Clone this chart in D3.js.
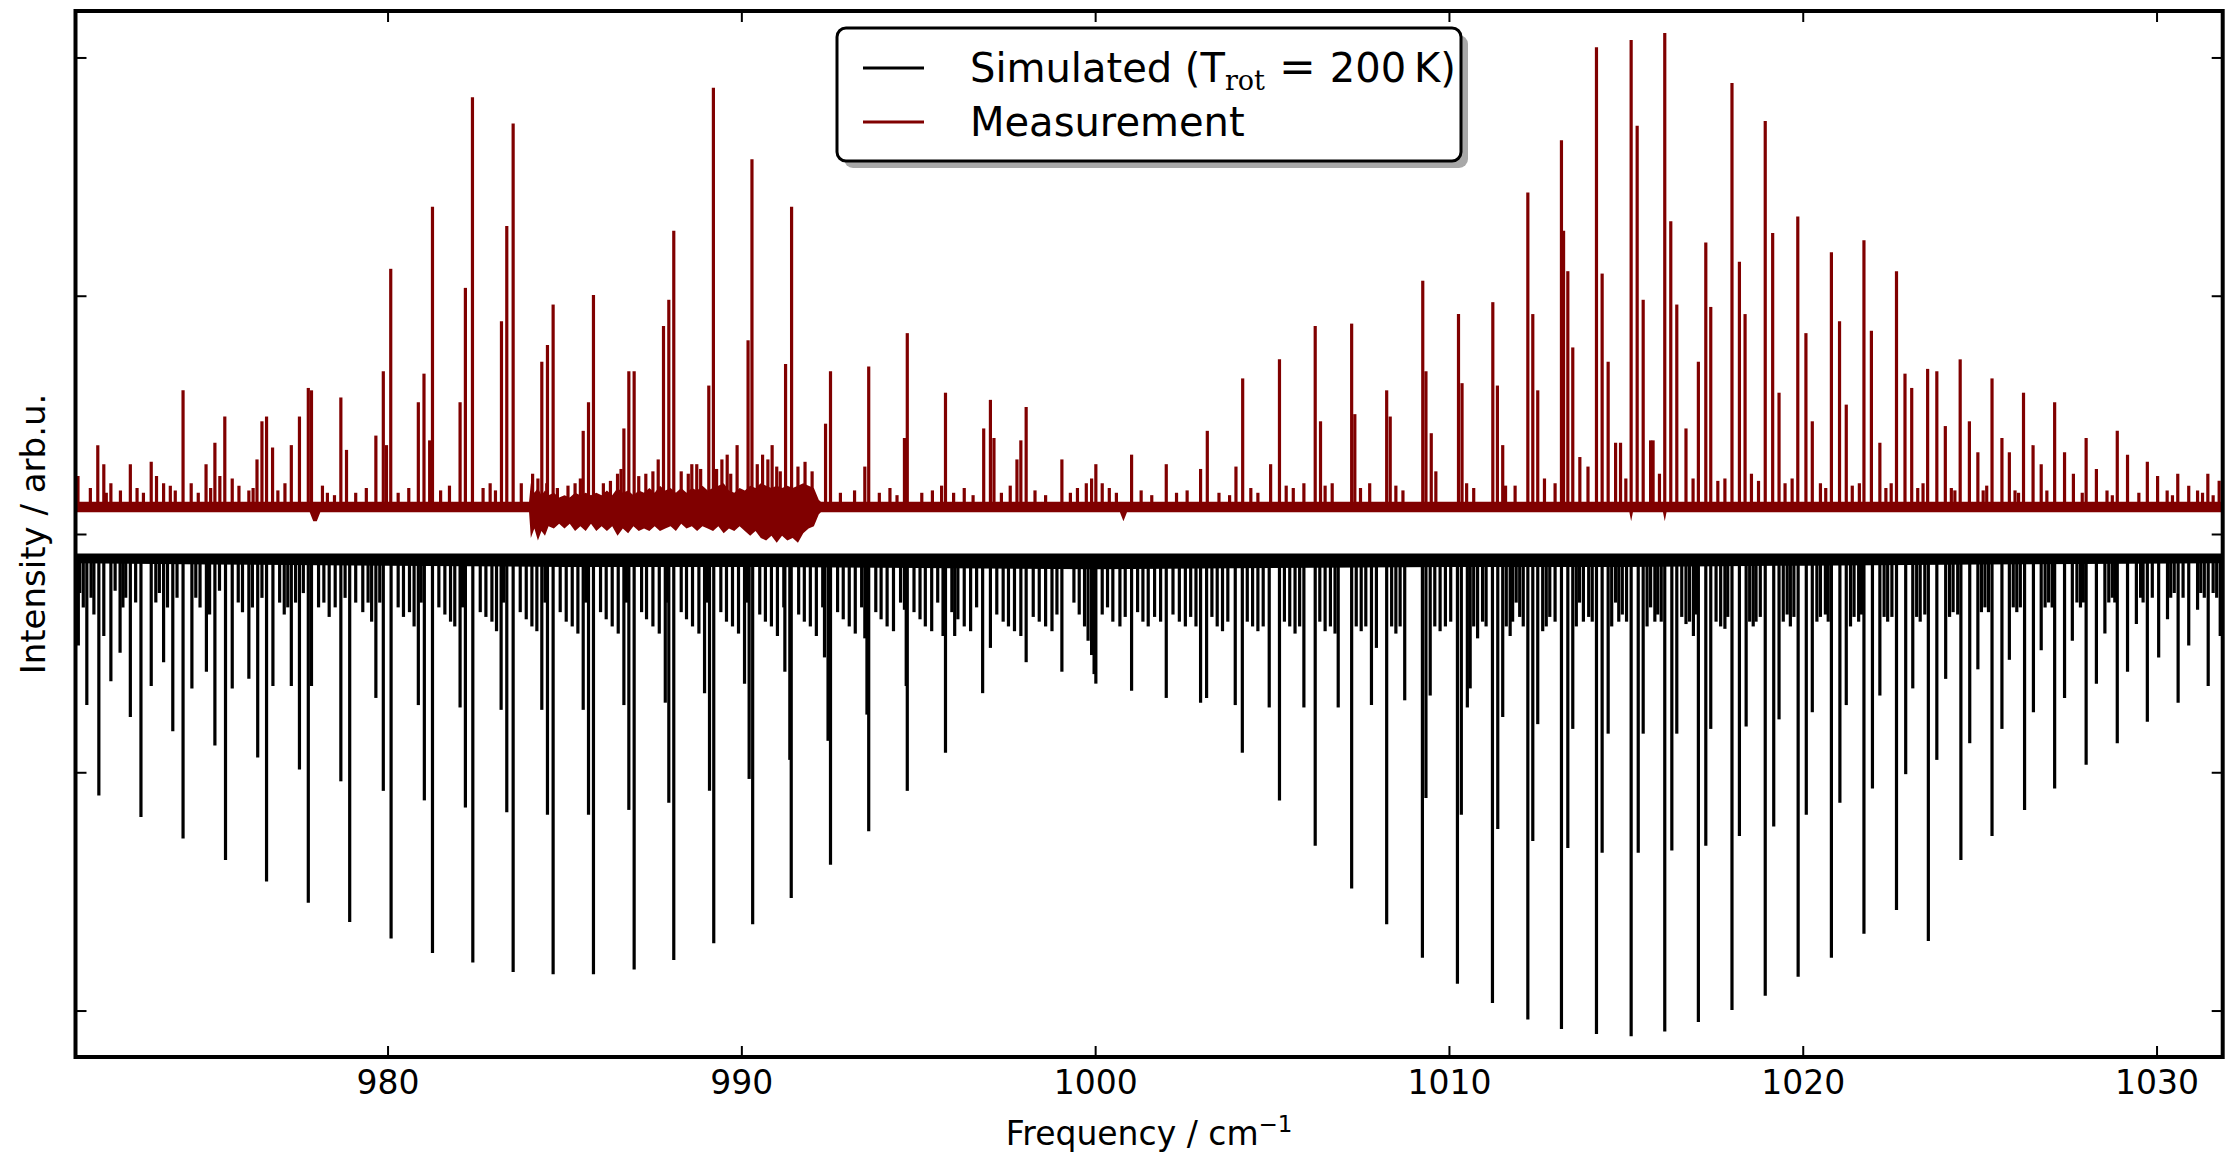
<!DOCTYPE html>
<html lang="en">
	<head>
		<meta charset="utf-8">
		<title>Spectrum: measurement vs. simulation</title>
		<script type="text/javascript" src="https://cdn.jsdelivr.net/npm/d3@7"></script>
		<style type="text/css">

			* {
				margin: 0;
				padding: 0;
			}

			body {
				background-color: white;
				font-family: "DejaVu Sans", sans-serif;
			}

			svg {
				display: block;
			}

			.axis path {
				display: none;
			}

			.axis line {
				stroke: black;
				stroke-width: 2;
			}

			.axis text {
				font-family: "DejaVu Sans", sans-serif;
				font-size: 33px;
				fill: black;
			}

		</style>
	</head>
	<body>

		<div id="chart"></div>

		<script type="text/javascript">

			//Width and height
			var w = 2237;
			var h = 1152;
			var plot = {left: 75.5, right: 2222.7, top: 11, bottom: 1057};

			//Axis ranges and ticks (y ticks carry no labels)
			var xDomain = [971.18, 1031.87];
			var yDomain = [-2.195, 2.195];
			var xTicks = [980, 990, 1000, 1010, 1020, 1030];
			var yTicks = [-2, -1, 0, 1, 2];

			//baselines the two traces sit on
			var measBase = 0.113;
			var simBase = -0.088;

			var seriesNames = ["Simulated", "Measurement"];
			var seriesColours = ["black", "#800000"];

			//Measurement: [frequency, height above baseline]
			var measPeaks = [
				[971.25,0.13],[971.81,0.26],[971.98,0.18],[972.18,0.10],[972.73,0.18],[972.92,0.08],[973.32,0.19],[973.47,0.13],
				[973.67,0.10],[973.86,0.09],[974.22,0.49],[974.87,0.18],[975.12,0.27],[975.26,0.13],[975.40,0.38],[975.61,0.12],
				[976.08,0.07],[976.31,0.20],[976.45,0.36],[976.58,0.38],[976.75,0.25],[977.28,0.26],[977.51,0.38],[977.76,0.50],
				[977.85,0.49],[978.16,0.09],[978.68,0.46],[978.84,0.24],[979.67,0.30],[979.88,0.57],[979.97,0.26],[980.09,1.00],
				[980.87,0.44],[981.03,0.56],[981.19,0.28],[981.27,1.26],[982.05,0.44],[982.20,0.92],[982.40,1.72],[983.22,0.78],
				[983.37,1.18],[983.55,1.61],[983.78,0.10],[984.36,0.61],[984.52,0.68],[984.68,0.85],[985.53,0.32],[985.68,0.44],
				[985.82,0.89],[986.68,0.33],[986.82,0.57],[986.97,0.57],[987.80,0.76],[987.95,0.87],[988.09,1.16],[988.74,0.18],
				[989.08,0.51],[989.21,1.76],[989.88,0.26],[990.19,0.70],[990.30,1.46],[990.87,0.26],[991.25,0.60],[991.42,1.26],
				[992.38,0.35],[992.52,0.57],[993.49,0.17],[993.60,0.59],[994.61,0.29],[994.69,0.73],[995.66,0.09],[995.77,0.48],
				[996.85,0.33],[997.04,0.45],[997.14,0.29],[997.79,0.20],[997.90,0.28],[998.05,0.42],[999.06,0.20],[1000.02,0.18],
				[1001.03,0.22],[1002.01,0.18],[1002.98,0.16],[1003.17,0.32],[1003.98,0.17],[1004.17,0.54],[1004.96,0.18],[1005.21,0.62],
				[1006.22,0.76],[1006.37,0.36],[1007.25,0.77],[1007.34,0.39],[1008.24,0.49],[1008.34,0.38],[1009.26,0.95],[1009.35,0.57],
				[1009.50,0.31],[1010.27,0.81],[1010.37,0.52],[1011.24,0.86],[1011.37,0.51],[1011.52,0.26],[1012.23,1.32],[1012.37,0.81],
				[1012.51,0.49],[1013.18,1.54],[1013.24,1.16],[1013.36,0.99],[1013.50,0.67],[1014.17,1.93],[1014.33,0.98],[1014.50,0.61],
				[1014.71,0.27],[1015.15,1.96],[1015.32,1.60],[1015.49,0.87],[1015.70,0.28],[1016.10,1.99],[1016.27,1.20],[1016.44,0.85],
				[1016.70,0.33],[1017.05,0.61],[1017.26,1.11],[1017.40,0.84],[1018.00,1.78],[1018.21,1.03],[1018.37,0.81],[1018.94,1.62],
				[1019.15,1.15],[1019.33,0.48],[1019.86,1.22],[1020.09,0.73],[1020.27,0.36],[1020.81,1.07],[1021.04,0.78],[1021.23,0.43],
				[1021.73,1.12],[1021.94,0.74],[1022.18,0.27],[1022.65,0.99],[1022.89,0.56],[1023.08,0.50],[1023.53,0.58],[1023.79,0.57],
				[1024.03,0.34],[1024.45,0.62],[1024.71,0.36],[1024.95,0.23],[1025.35,0.54],[1025.63,0.29],[1025.84,0.23],[1026.24,0.48],
				[1026.51,0.26],[1026.74,0.18],[1027.12,0.44],[1027.40,0.23],[1027.65,0.14],[1028.01,0.29],[1028.30,0.16],[1028.89,0.32],
				[1029.18,0.22],[1029.74,0.19],[1030.03,0.13],[1030.60,0.14],[1030.91,0.09],[1031.16,0.07],[1031.45,0.14],[1031.77,0.11]
			];

			//small spikes riding on the measured baseline
			var measSmall = [
				[971.60,0.08],[972.05,0.06],[972.45,0.07],[973.10,0.06],[974.00,0.07],[974.45,0.10],[974.65,0.06],[975.00,0.08],
				[975.80,0.09],[976.20,0.08],[976.90,0.07],[977.10,0.10],[978.30,0.06],[978.50,0.05],[979.10,0.06],[979.40,0.08],
				[980.30,0.06],[980.60,0.08],[981.50,0.07],[981.75,0.09],[982.70,0.08],[982.90,0.10],[983.05,0.07],
				[984.10,0.14],[984.25,0.12],[984.50,0.10],[984.80,0.08],[985.10,0.09],[985.30,0.10],[985.45,0.12],[986.10,0.10],
				[986.30,0.11],[986.50,0.14],[986.60,0.16],[987.10,0.13],[987.30,0.14],[987.50,0.15],[987.65,0.20],[988.30,0.15],
				[988.50,0.14],[988.60,0.18],[988.85,0.16],[989.30,0.16],[989.45,0.20],[989.60,0.22],[989.70,0.14],[990.45,0.18],
				[990.60,0.22],[990.75,0.20],[991.00,0.17],[991.10,0.15],[991.60,0.17],[991.80,0.19],[992.00,0.15],
				[992.80,0.06],[993.20,0.07],[993.90,0.06],[994.20,0.08],[994.40,0.05],[995.10,0.06],[995.40,0.07],[996.00,0.06],
				[996.30,0.08],[996.55,0.05],[997.35,0.06],[997.60,0.09],[998.30,0.07],[998.60,0.05],[999.30,0.06],[999.50,0.08],
				[999.75,0.10],[999.90,0.12],[1000.20,0.10],[1000.40,0.08],[1000.60,0.06],[1001.30,0.07],[1001.60,0.05],[1002.30,0.06],
				[1002.60,0.07],[1003.50,0.06],[1003.80,0.05],[1004.40,0.08],[1004.60,0.06],[1005.40,0.09],[1005.60,0.08],[1005.90,0.10],
				[1006.50,0.09],[1006.70,0.10],[1007.50,0.08],[1007.76,0.10],[1008.50,0.09],[1008.70,0.07],[1009.63,0.15],[1010.50,0.10],
				[1010.70,0.08],[1011.60,0.09],[1011.87,0.09],[1012.70,0.12],[1013.00,0.10],[1013.70,0.21],[1013.93,0.17],[1014.85,0.27],
				[1015.00,0.12],[1015.77,0.28],[1015.95,0.14],[1016.90,0.12],[1017.60,0.11],[1017.80,0.12],[1018.55,0.14],[1018.75,0.11],
				[1019.50,0.10],[1019.70,0.12],[1020.50,0.10],[1020.65,0.08],[1021.40,0.09],[1021.60,0.10],[1022.35,0.08],[1022.50,0.10],
				[1023.25,0.08],[1023.40,0.10],[1024.20,0.08],[1024.30,0.07],[1025.10,0.07],[1025.20,0.09],[1026.00,0.07],[1026.10,0.06],
				[1026.90,0.07],[1027.90,0.06],[1028.60,0.07],[1028.75,0.05],[1029.50,0.06],[1030.30,0.07],[1030.45,0.05],[1031.30,0.06],
				[1031.60,0.05]
			];

			//noise envelope of the measured baseline: [frequency, upper, lower]
			var measNoise = [
				[971.18,0.022,-0.022],[977.80,0.022,-0.022],[977.90,0.022,-0.06],[978.00,0.022,-0.06],[978.10,0.022,-0.022],
				[984.00,0.022,-0.022],[984.05,0.10,-0.13],[984.15,0.06,-0.09],[984.25,0.08,-0.14],[984.35,0.05,-0.10],
				[984.45,0.07,-0.12],[984.55,0.05,-0.08],[984.70,0.06,-0.09],[984.85,0.04,-0.07],[985.00,0.05,-0.09],
				[985.15,0.04,-0.07],[985.30,0.06,-0.10],[985.45,0.05,-0.08],[985.60,0.06,-0.10],[985.75,0.05,-0.07],
				[985.90,0.06,-0.10],[986.05,0.05,-0.08],[986.20,0.07,-0.10],[986.35,0.05,-0.08],[986.50,0.08,-0.12],
				[986.65,0.06,-0.09],[986.80,0.07,-0.11],[986.95,0.05,-0.08],[987.10,0.07,-0.10],[987.25,0.06,-0.09],
				[987.40,0.08,-0.10],[987.55,0.06,-0.08],[987.70,0.09,-0.10],[987.85,0.07,-0.09],[988.00,0.08,-0.08],
				[988.15,0.06,-0.10],[988.30,0.08,-0.07],[988.45,0.06,-0.09],[988.60,0.08,-0.08],[988.75,0.07,-0.10],
				[988.90,0.09,-0.08],[989.05,0.07,-0.09],[989.20,0.08,-0.10],[989.35,0.09,-0.08],[989.50,0.10,-0.11],
				[989.65,0.07,-0.09],[989.80,0.06,-0.10],[989.95,0.08,-0.08],[990.10,0.07,-0.10],[990.25,0.09,-0.12],
				[990.40,0.08,-0.10],[990.55,0.10,-0.13],[990.70,0.09,-0.14],[990.85,0.08,-0.12],[991.00,0.09,-0.15],
				[991.15,0.08,-0.12],[991.30,0.09,-0.14],[991.45,0.08,-0.13],[991.60,0.09,-0.15],[991.75,0.10,-0.11],
				[991.90,0.09,-0.09],[992.05,0.08,-0.08],[992.19,0.03,-0.03],[992.25,0.022,-0.022],
				[1000.70,0.022,-0.022],[1000.80,0.022,-0.06],[1000.90,0.022,-0.022],
				[1015.10,0.022,-0.022],[1015.15,0.022,-0.06],[1015.20,0.022,-0.022],[1016.05,0.022,-0.022],[1016.10,0.022,-0.06],
				[1016.15,0.022,-0.022],[1031.87,0.022,-0.022]
			];

			//Simulated: [frequency, depth below its baseline]
			var simLines = [
				[971.26,0.38],[971.50,0.63],[971.84,1.01],[971.98,0.34],[972.18,0.53],[972.44,0.41],[972.73,0.68],[973.03,1.10],
				[973.32,0.55],[973.67,0.45],[973.93,0.74],[974.22,1.19],[974.47,0.56],[974.88,0.49],[975.12,0.80],[975.42,1.28],
				[975.61,0.56],[976.08,0.52],[976.33,0.85],[976.58,1.37],[976.76,0.55],[977.28,0.55],[977.51,0.90],[977.76,1.46],
				[977.85,0.55],[978.68,0.95],[978.93,1.54],[979.67,0.60],[979.88,0.99],[980.10,1.61],[980.87,0.63],[981.04,1.03],
				[981.27,1.67],[982.05,0.64],[982.20,1.06],[982.41,1.71],[983.21,0.65],[983.37,1.08],[983.55,1.75],[984.36,0.65],
				[984.52,1.09],[984.68,1.76],[985.53,0.65],[985.68,1.09],[985.82,1.76],[986.68,0.63],[986.82,1.07],[986.97,1.74],
				[987.85,0.62],[987.95,1.04],[988.09,1.70],[988.96,0.58],[989.10,0.99],[989.22,1.63],[990.09,0.54],[990.22,0.94],
				[990.32,1.55],[991.23,0.49],[991.37,0.86],[991.41,1.44],[992.35,0.43],[992.45,0.78],[992.52,1.30],[993.49,0.35],
				[993.55,0.67],[993.60,1.16],[994.61,0.23],[994.66,0.55],[994.69,0.99],[995.70,0.34],[995.77,0.83],[996.03,0.34],
				[996.82,0.58],[997.04,0.39],[997.90,0.34],[998.05,0.45],[999.06,0.49],[1000.02,0.54],[1001.03,0.57],[1002.01,0.60],
				[1002.98,0.62],[1003.15,0.60],[1003.96,0.63],[1004.16,0.83],[1004.92,0.64],[1005.21,1.03],[1005.90,0.64],[1006.22,1.22],
				[1006.87,0.64],[1007.25,1.40],[1007.81,0.63],[1007.95,0.39],[1008.24,1.55],[1008.75,0.61],[1009.25,1.69],[1009.35,1.02],
				[1009.47,0.59],[1010.24,1.80],[1010.35,1.09],[1010.52,0.64],[1010.60,0.56],[1010.81,0.35],[1011.23,1.88],[1011.38,1.15],
				[1011.52,0.68],[1011.73,0.34],[1011.90,0.20],[1012.23,1.95],[1012.37,1.20],[1012.51,0.71],[1012.65,0.32],[1013.18,1.99],
				[1013.36,1.23],[1013.50,0.73],[1013.69,0.20],[1014.17,2.01],[1014.33,1.25],[1014.50,0.75],[1014.71,0.20],[1015.15,2.02],
				[1015.35,1.25],[1015.49,0.75],[1015.70,0.22],[1016.10,2.00],[1016.30,1.24],[1016.44,0.75],[1016.70,0.29],[1016.91,0.34],
				[1017.05,1.96],[1017.26,1.22],[1017.40,0.73],[1017.80,0.31],[1018.00,1.91],[1018.21,1.18],[1018.40,0.72],[1018.68,0.28],
				[1018.94,1.85],[1019.18,1.14],[1019.33,0.69],[1019.56,0.25],[1019.87,1.77],[1020.10,1.09],[1020.27,0.66],[1020.64,0.25],
				[1020.81,1.69],[1021.05,1.04],[1021.23,0.63],[1021.66,0.25],[1021.73,1.59],[1021.97,0.98],[1022.18,0.59],[1022.65,1.49],
				[1022.91,0.92],[1023.11,0.56],[1023.55,1.62],[1023.79,0.86],[1024.04,0.52],[1024.47,1.28],[1024.72,0.79],[1024.95,0.48],
				[1025.35,1.18],[1025.63,0.73],[1025.84,0.44],[1026.27,1.07],[1026.52,0.66],[1026.74,0.40],[1027.12,0.98],[1027.40,0.60],
				[1027.62,0.36],[1028.01,0.88],[1028.30,0.54],[1028.54,0.33],[1028.89,0.79],[1029.18,0.49],[1029.43,0.29],[1029.74,0.70],
				[1030.06,0.43],[1030.31,0.27],[1030.61,0.62],[1030.91,0.38],[1031.16,0.23],[1031.46,0.55],[1031.80,0.34]
			];

			//weak simulated lines forming the dense comb under the baseline
			var simWeak = [
				[971.30,0.16],[971.40,0.22],[971.62,0.18],[971.70,0.25],[972.30,0.15],[972.52,0.22],[972.60,0.18],[972.88,0.20],
				[973.45,0.20],[973.55,0.16],[973.78,0.22],[974.05,0.18],[974.58,0.18],[974.70,0.22],[974.97,0.25],[975.25,0.15],
				[975.78,0.20],[975.90,0.24],[976.18,0.22],[976.45,0.18],[976.95,0.20],[977.08,0.25],[977.18,0.22],[977.40,0.20],
				[977.62,0.16],[978.05,0.22],[978.20,0.20],[978.35,0.26],[978.52,0.22],[978.80,0.18],[979.10,0.20],[979.30,0.24],
				[979.45,0.20],[979.55,0.28],[979.78,0.20],[980.30,0.22],[980.45,0.26],[980.62,0.24],[980.75,0.30],[980.95,0.20],
				[981.45,0.22],[981.62,0.25],[981.78,0.28],[981.90,0.30],[982.12,0.22],[982.62,0.24],[982.78,0.26],[982.95,0.28],
				[983.08,0.32],[983.28,0.20],[983.75,0.24],[983.92,0.27],[984.08,0.30],[984.22,0.32],[984.45,0.20],[984.88,0.24],
				[985.05,0.28],[985.22,0.30],[985.38,0.33],[985.60,0.20],[986.02,0.24],[986.18,0.27],[986.35,0.30],[986.52,0.33],
				[986.75,0.20],[987.18,0.24],[987.32,0.27],[987.50,0.30],[987.68,0.33],[987.90,0.20],[988.30,0.24],[988.45,0.27],
				[988.62,0.30],[988.80,0.33],[989.02,0.20],[989.42,0.24],[989.58,0.28],[989.75,0.30],[989.92,0.33],[990.15,0.20],
				[990.52,0.25],[990.68,0.28],[990.85,0.30],[991.02,0.34],[991.20,0.22],[991.62,0.25],[991.78,0.28],[991.95,0.30],
				[992.12,0.34],[992.30,0.22],[992.72,0.24],[992.88,0.27],[993.05,0.30],[993.22,0.33],[993.40,0.22],[993.80,0.24],
				[993.95,0.27],[994.12,0.30],[994.30,0.32],[994.50,0.20],[994.88,0.24],[995.05,0.27],[995.20,0.30],[995.38,0.32],
				[995.55,0.20],[995.95,0.24],[996.12,0.27],[996.30,0.30],[996.48,0.32],[996.65,0.22],[997.22,0.25],[997.40,0.28],
				[997.55,0.30],[997.72,0.32],[998.25,0.26],[998.42,0.28],[998.60,0.30],[998.78,0.32],[998.92,0.25],[999.40,0.20],
				[999.55,0.25],[999.70,0.30],[999.80,0.36],[999.90,0.42],[999.97,0.50],[1000.20,0.25],[1000.35,0.22],[1000.50,0.28],
				[1000.70,0.30],[1000.85,0.26],[1001.20,0.24],[1001.35,0.28],[1001.50,0.30],[1001.68,0.26],[1001.85,0.28],[1002.20,0.25],
				[1002.38,0.28],[1002.55,0.30],[1002.70,0.26],[1002.85,0.30],[1003.30,0.26],[1003.45,0.30],[1003.60,0.32],[1003.75,0.28],
				[1004.30,0.28],[1004.45,0.30],[1004.60,0.32],[1004.75,0.30],[1005.35,0.28],[1005.50,0.30],[1005.65,0.33],[1005.78,0.30],
				[1006.35,0.28],[1006.50,0.32],[1006.65,0.30],[1006.78,0.33],[1007.38,0.30],[1007.52,0.32],[1007.65,0.30],[1008.38,0.30],
				[1008.50,0.33],[1008.62,0.30],[1009.60,0.30],[1009.75,0.32],[1009.90,0.30],[1010.05,0.28],[1010.70,0.30],[1010.95,0.28],
				[1011.05,0.30],[1011.62,0.30],[1011.80,0.28],[1012.00,0.26],[1012.10,0.30],[1012.75,0.30],[1012.85,0.26],[1013.00,0.28],
				[1013.60,0.30],[1013.80,0.28],[1013.95,0.26],[1014.05,0.28],[1014.60,0.30],[1014.80,0.28],[1014.90,0.25],[1015.02,0.28],
				[1015.60,0.30],[1015.82,0.28],[1015.90,0.25],[1016.00,0.28],[1016.58,0.26],[1016.80,0.28],[1016.98,0.25],[1017.55,0.28],
				[1017.68,0.30],[1017.88,0.26],[1018.50,0.28],[1018.60,0.30],[1018.80,0.26],[1019.45,0.28],[1019.65,0.30],[1019.75,0.26],
				[1020.40,0.28],[1020.50,0.26],[1020.72,0.28],[1021.35,0.30],[1021.45,0.26],[1021.58,0.28],[1022.30,0.26],[1022.40,0.28],
				[1022.52,0.26],[1023.22,0.26],[1023.32,0.28],[1023.45,0.25],[1024.15,0.26],[1024.25,0.24],[1024.38,0.25],[1025.05,0.24],
				[1025.15,0.22],[1025.25,0.24],[1025.95,0.22],[1026.05,0.24],[1026.15,0.22],[1026.85,0.22],[1026.95,0.20],[1027.05,0.22],
				[1027.75,0.20],[1027.85,0.22],[1027.93,0.20],[1028.65,0.20],[1028.75,0.18],[1028.82,0.20],[1029.55,0.18],[1029.62,0.20],
				[1029.88,0.18],[1030.40,0.18],[1030.50,0.16],[1030.75,0.18],[1031.25,0.16],[1031.35,0.18],[1031.60,0.16],[1031.70,0.18]
			];

			//nearly solid black band right under the simulated baseline
			var simFloor = [
				[971.18,0.035],[975,0.04],[980,0.045],[985,0.05],[990,0.05],[995,0.055],[1000,0.06],
				[1005,0.055],[1010,0.05],[1015,0.05],[1020,0.045],[1025,0.04],[1031.87,0.035]
			];

			//scales
			var xScale = d3.scaleLinear()
				.domain(xDomain)
				.range([plot.left, plot.right]);

			var yScale = d3.scaleLinear()
				.domain(yDomain)
				.range([plot.bottom, plot.top]);

			var svg = d3.select("#chart")
				.append("svg")
				.attr("width", w)
				.attr("height", h);

			svg.append("defs")
				.append("clipPath")
				.attr("id", "plotClip")
				.append("rect")
				.attr("x", plot.left)
				.attr("y", plot.top)
				.attr("width", plot.right - plot.left)
				.attr("height", plot.bottom - plot.top);

			var g = svg.append("g")
				.attr("clip-path", "url(#plotClip)");

			/** Simulated trace (pointing down) **/

			var floorArea = d3.area()
				.x(function(d) { return xScale(d[0]); })
				.y0(yScale(simBase))
				.y1(function(d) { return yScale(simBase - d[1]); });

			g.append("path")
				.datum(simFloor)
				.attr("d", floorArea)
				.attr("fill", seriesColours[0]);

			g.append("g")
				.attr("class", "sim")
				.selectAll("line")
				.data(simWeak.concat(simLines))
				.enter()
				.append("line")
				.attr("x1", function(d) { return xScale(d[0]); })
				.attr("x2", function(d) { return xScale(d[0]); })
				.attr("y1", yScale(simBase))
				.attr("y2", function(d) { return yScale(simBase - d[1]); })
				.attr("stroke", seriesColours[0])
				.attr("stroke-width", 3.2);

			g.append("line")
				.attr("x1", plot.left)
				.attr("x2", plot.right)
				.attr("y1", yScale(simBase))
				.attr("y2", yScale(simBase))
				.attr("stroke", seriesColours[0])
				.attr("stroke-width", 3);

			/** Measurement trace (pointing up) **/

			var noiseArea = d3.area()
				.x(function(d) { return xScale(d[0]); })
				.y0(function(d) { return yScale(measBase + d[2]); })
				.y1(function(d) { return yScale(measBase + d[1]); });

			g.append("path")
				.datum(measNoise)
				.attr("d", noiseArea)
				.attr("fill", seriesColours[1]);

			g.append("g")
				.attr("class", "meas")
				.selectAll("line")
				.data(measSmall.concat(measPeaks))
				.enter()
				.append("line")
				.attr("x1", function(d) { return xScale(d[0]); })
				.attr("x2", function(d) { return xScale(d[0]); })
				.attr("y1", yScale(measBase))
				.attr("y2", function(d) { return yScale(measBase + d[1]); })
				.attr("stroke", seriesColours[1])
				.attr("stroke-width", 3.2);

			/** Axes: inward ticks on all four sides **/

			svg.append("g")
				.attr("class", "axis")
				.attr("transform", "translate(0," + plot.bottom + ")")
				.call(d3.axisBottom(xScale).tickValues(xTicks).tickSizeInner(-11).tickSizeOuter(0)
					.tickPadding(14).tickFormat(d3.format("d")));

			svg.append("g")
				.attr("class", "axis")
				.attr("transform", "translate(0," + plot.top + ")")
				.call(d3.axisTop(xScale).tickValues(xTicks).tickSizeInner(-11).tickSizeOuter(0).tickFormat(""));

			svg.append("g")
				.attr("class", "axis")
				.attr("transform", "translate(" + plot.left + ",0)")
				.call(d3.axisLeft(yScale).tickValues(yTicks).tickSizeInner(-11).tickSizeOuter(0).tickFormat(""));

			svg.append("g")
				.attr("class", "axis")
				.attr("transform", "translate(" + plot.right + ",0)")
				.call(d3.axisRight(yScale).tickValues(yTicks).tickSizeInner(-11).tickSizeOuter(0).tickFormat(""));

			//frame
			svg.append("rect")
				.attr("x", plot.left)
				.attr("y", plot.top)
				.attr("width", plot.right - plot.left)
				.attr("height", plot.bottom - plot.top)
				.attr("fill", "none")
				.attr("stroke", "black")
				.attr("stroke-width", 4);

			//axis titles
			var xLabel = svg.append("text")
				.attr("x", (plot.left + plot.right) / 2)
				.attr("y", 1145)
				.attr("text-anchor", "middle")
				.style("font-family", "'DejaVu Sans', sans-serif")
				.style("font-size", "33px");
			xLabel.append("tspan").text("Frequency / cm");
			xLabel.append("tspan")
				.attr("dy", -13)
				.style("font-size", "23px")
				.text("\u22121");

			svg.append("text")
				.attr("transform", "translate(33," + ((plot.top + plot.bottom) / 2) + ") rotate(-90)")
				.attr("text-anchor", "middle")
				.attr("dy", "0.35em")
				.style("font-family", "'DejaVu Sans', sans-serif")
				.style("font-size", "34px")
				.text("Intensity / arb.u.");

			/** Legend **/

			var legend = svg.append("g")
				.attr("class", "legend");

			var box = {x: 837, y: 28, w: 624, h: 133};

			legend.append("rect")
				.attr("x", box.x + 7)
				.attr("y", box.y + 7)
				.attr("width", box.w)
				.attr("height", box.h)
				.attr("rx", 9)
				.attr("fill", "#a8a8a8");

			legend.append("rect")
				.attr("x", box.x)
				.attr("y", box.y)
				.attr("width", box.w)
				.attr("height", box.h)
				.attr("rx", 9)
				.attr("fill", "white")
				.attr("stroke", "black")
				.attr("stroke-width", 3);

			var rowY = [68, 122];

			legend.selectAll("line.key")
				.data(seriesNames)
				.enter()
				.append("line")
				.attr("class", "key")
				.attr("x1", 863)
				.attr("x2", 924)
				.attr("y1", function(d, i) { return rowY[i]; })
				.attr("y2", function(d, i) { return rowY[i]; })
				.attr("stroke", function(d, i) { return seriesColours[i]; })
				.attr("stroke-width", 3);

			var simText = legend.append("text")
				.attr("x", 970)
				.attr("y", rowY[0] + 14)
				.style("font-family", "'DejaVu Sans', sans-serif")
				.style("font-size", "40px");
			simText.append("tspan").text(seriesNames[0] + " (T");
			simText.append("tspan")
				.attr("dy", 8)
				.style("font-family", "'DejaVu Serif', serif")
				.style("font-size", "27px")
				.text("rot");
			simText.append("tspan")
				.attr("dy", -8)
				.style("font-family", "'DejaVu Serif', serif")
				.style("font-size", "44px")
				.text(" = ");
			simText.append("tspan").text("200\u2009K)");

			legend.append("text")
				.attr("x", 970)
				.attr("y", rowY[1] + 14)
				.style("font-family", "'DejaVu Sans', sans-serif")
				.style("font-size", "40px")
				.text(seriesNames[1]);

		</script>
	</body>
</html>
